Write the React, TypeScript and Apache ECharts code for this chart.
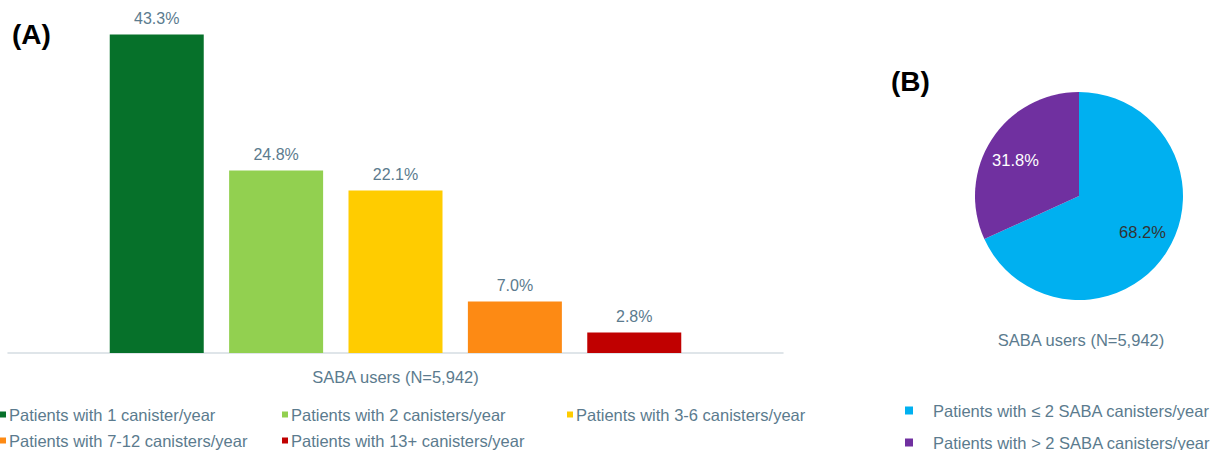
import React, { useEffect, useRef } from "react";
import * as echarts from "echarts";

const category = ["SABA users (N=5,942)"];
const barNames = [
  "Patients with 1 canister/year",
  "Patients with 2 canisters/year",
  "Patients with 3-6 canisters/year",
  "Patients with 7-12 canisters/year",
  "Patients with 13+ canisters/year",
];
const barValues = [43.3, 24.8, 22.1, 7.0, 2.8];
const barColors = ["#06712a", "#92d050", "#ffcc00", "#fd8a14", "#c00000"];

const pieNames = [
  "Patients with \u2264 2 SABA canisters/year",
  "Patients with > 2 SABA canisters/year",
];
const pieValues = [68.2, 31.8];
const pieColors = ["#00b0f0", "#7030a0"];
const pieLabelColors = ["#333333", "#ffffff"];
const pieLabelShift = [-5, 5];

const textColor = "#5b7b8e";
const font = "'Liberation Sans', Arial, sans-serif";

// legend layout slots: [left, top]
const barLegendPos: [number, number][] = [
  [0, 406],
  [282, 406],
  [567, 406],
  [0, 432],
  [282, 432],
];
const pieLegendPos: [number, number][] = [
  [905, 402],
  [905, 434],
];

export default function App() {
  const ref = useRef<HTMLDivElement>(null);
  useEffect(() => {
    if (!ref.current) return;
    const chart = echarts.init(ref.current, null, { renderer: "svg" });
    const legends: any[] = [];
    barNames.forEach((n, i) => {
      legends.push({
        data: [n],
        left: barLegendPos[i][0],
        top: barLegendPos[i][1],
        padding: 0,
        itemWidth: 6,
        itemHeight: 6,
        icon: "rect",
        selectedMode: false,
        textStyle: { color: textColor, fontSize: 16.5, fontFamily: font, padding: [0, 0, 0, -2] },
      });
    });
    pieNames.forEach((n, i) => {
      legends.push({
        data: [n],
        left: pieLegendPos[i][0],
        top: pieLegendPos[i][1],
        padding: 0,
        itemWidth: 8,
        itemHeight: 8,
        icon: "rect",
        selectedMode: false,
        textStyle: { color: textColor, fontSize: 16.5, fontFamily: font, padding: [0, 0, 0, 15] },
      });
    });

    const barSeries = barNames.map((n, i) => ({
      type: "bar",
      name: n,
      data: [barValues[i]],
      barWidth: 94,
      barGap: "27%",
      itemStyle: { color: barColors[i] },
      label: {
        show: true,
        position: "top",
        distance: 8,
        color: textColor,
        fontSize: 16,
        fontFamily: font,
        formatter: (p: any) => Number(p.value).toFixed(1) + "%",
      },
    }));

    const pieData = pieNames.map((n, i) => ({
      name: n,
      value: pieValues[i],
      itemStyle: { color: pieColors[i] },
    }));
    const pieLabelData = pieNames.map((n, i) => ({
      name: n,
      value: pieValues[i],
      itemStyle: { color: "rgba(0,0,0,0)" },
      label: { color: pieLabelColors[i], offset: [0, pieLabelShift[i]] },
    }));

    chart.setOption({
      animation: false,
      textStyle: { fontFamily: font },
      grid: { left: 8, right: 427, top: 22, bottom: 97 },
      xAxis: {
        type: "category",
        data: category,
        axisLine: { lineStyle: { color: "#d5dde2", width: 1.5 } },
        axisTick: { show: false },
        axisLabel: { color: textColor, fontSize: 16.5, fontFamily: font, margin: 15 },
      },
      yAxis: { type: "value", min: 0, max: 45, show: false },
      legend: legends,
      graphic: [
        {
          type: "text",
          left: 12,
          top: 20,
          style: { text: "(A)", fontSize: 28, fontWeight: "bold", fill: "#000", fontFamily: font },
        },
        {
          type: "text",
          left: 891,
          top: 67,
          style: { text: "(B)", fontSize: 28, fontWeight: "bold", fill: "#000", fontFamily: font },
        },
        {
          type: "text",
          x: 1081,
          y: 340,
          style: {
            text: "SABA users (N=5,942)",
            fontSize: 16.5,
            fill: textColor,
            fontFamily: font,
            textAlign: "center",
            textVerticalAlign: "middle",
          },
        },
      ],
      series: [
        ...barSeries,
        {
          type: "pie",
          center: [1079, 196],
          radius: 104,
          startAngle: 90,
          label: { show: false },
          labelLine: { show: false },
          emphasis: { disabled: true },
          data: pieData,
        },
        {
          type: "pie",
          center: [1079, 196],
          radius: [41, 104],
          startAngle: 90,
          silent: true,
          z: 3,
          label: {
            show: true,
            position: "inside",
            fontSize: 16.5,
            fontFamily: font,
            formatter: (p: any) => Number(p.value).toFixed(1) + "%",
          },
          labelLine: { show: false },
          data: pieLabelData,
        },
      ],
    });
    return () => chart.dispose();
  }, []);
  return <div ref={ref} style={{ width: 1210, height: 450, position: "absolute", left: 0, top: 0 }} />;
}
